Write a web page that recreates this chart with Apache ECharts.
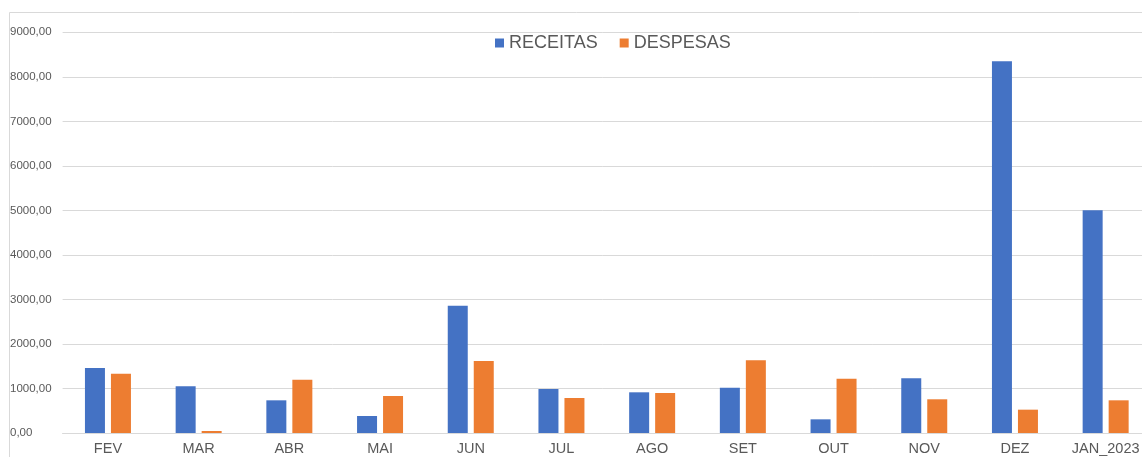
<!DOCTYPE html>
<html>
<head>
<meta charset="utf-8">
<script src="https://cdn.jsdelivr.net/npm/echarts@6/dist/echarts.min.js"></script>
<style>
  html, body { margin: 0; padding: 0; background: #fff; }
  #chart { width: 1142px; height: 457px; }
</style>
</head>
<body>
<div id="chart"></div>
<script>
var meses = ['FEV', 'MAR', 'ABR', 'MAI', 'JUN', 'JUL', 'AGO', 'SET', 'OUT', 'NOV', 'DEZ', 'JAN_2023'];
var receitas = [1460, 1049, 734, 382, 2860, 988, 914, 1018, 307, 1228, 8349, 5005];
var despesas = [1332, 45, 1197, 831, 1617, 786, 898, 1633, 1220, 757, 524, 734];

var myChart = echarts.init(document.getElementById('chart'));

var option = {
  backgroundColor: '#fff',
  animation: false,
  textStyle: { fontFamily: 'Liberation Sans, Arial, sans-serif' },
  graphic: [{
    type: 'rect',
    shape: { x: 9.5, y: 12.5, width: 1200, height: 500 },
    style: { fill: 'none', stroke: '#d9d9d9', lineWidth: 1 },
    silent: true,
    z: -1
  }],
  legend: {
    top: 29,
    left: 490,
    itemWidth: 9,
    itemHeight: 9,
    itemGap: 22,
    icon: 'rect',
    textStyle: { color: '#595959', fontSize: 18 },
    data: ['RECEITAS', 'DESPESAS']
  },
  grid: { left: 62.6, right: -9, top: 32.3, bottom: 24, containLabel: false, outerBoundsMode: 'none' },
  xAxis: {
    type: 'category',
    data: meses,
    axisLine: { lineStyle: { color: '#d9d9d9' } },
    axisTick: { show: false },
    axisLabel: { color: '#595959', fontSize: 14.5, margin: 8 }
  },
  yAxis: {
    type: 'value',
    min: 0,
    max: 9000,
    interval: 1000,
    axisLine: { show: false },
    axisTick: { show: false },
    splitLine: { lineStyle: { color: '#d9d9d9' } },
    axisLabel: {
      color: '#595959',
      fontSize: 11.5,
      align: 'left',
      margin: 52.6,
      formatter: function (v) { return v.toFixed(2).replace('.', ','); }
    }
  },
  series: [{
    name: 'RECEITAS',
    type: 'bar',
    data: receitas,
    barWidth: 20,
    barGap: '30%',
    itemStyle: { color: '#4472C4' }
  }, {
    name: 'DESPESAS',
    type: 'bar',
    data: despesas,
    barWidth: 20,
    itemStyle: { color: '#ED7D31' }
  }]
};

myChart.setOption(option);
</script>
</body>
</html>
